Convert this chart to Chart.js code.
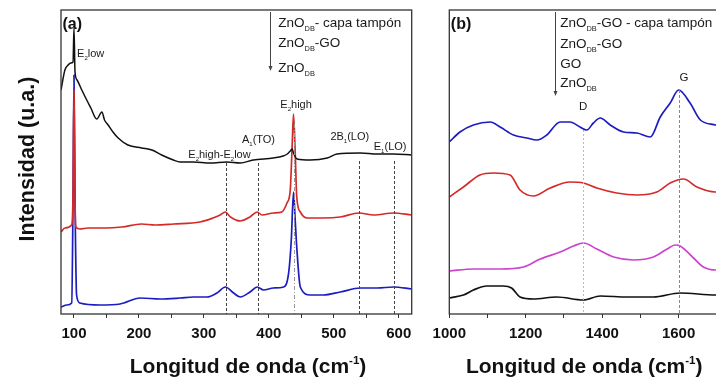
<!DOCTYPE html>
<html>
<head>
<meta charset="utf-8">
<script src="https://cdn.jsdelivr.net/npm/chart.js@4.4.0/dist/chart.umd.min.js"></script>
<style>
  html, body { margin: 0; padding: 0; background: #fff; overflow: hidden; width: 716px; height: 379px; }
  #ramanA { position: absolute; left: 0; top: 0; }
  #ramanB { position: absolute; left: 430px; top: 0; }
</style>
</head>
<body>
<canvas id="ramanA" width="430" height="379"></canvas>
<canvas id="ramanB" width="300" height="379"></canvas>
<script>
const FONT = '"Liberation Sans", Arial, sans-serif';

// --- (a) ZnO spectra, 80-620 cm-1 ---
const waveBlackA = [80, 86, 91, 95, 98.5, 100, 101.6, 104.7, 112, 119.6, 126, 135, 143, 147, 152.5, 160, 168, 183, 204, 220, 235, 253, 263.5, 283.5, 310, 335.5, 356, 376, 407, 422, 428.5, 433, 436, 438, 443.5, 464, 490, 505, 541, 567, 592, 620];
const intBlackA  = [224, 244, 249, 251, 252, 286, 242, 234, 224, 214, 206, 195, 202, 194, 189, 182, 176, 169, 166, 164, 159, 154, 152, 152, 151, 152, 151, 154, 156, 158, 160, 163, 165, 161, 155, 154, 156, 160, 161, 160, 160, 159];

const waveRedA = [80, 86, 96.5, 98.5, 100, 101.6, 103, 109, 121.6, 148, 173.6, 204, 225, 253, 294, 314, 325, 333, 341, 356, 371, 382, 389.5, 407, 420, 428, 433, 435.7, 438, 440.5, 443, 448.5, 459, 484, 510, 538.5, 561.6, 592, 620];
const intRedA  = [82, 86, 89, 120, 224, 114, 87, 85, 86, 86, 87, 90, 89, 90, 92, 96, 99, 102, 97, 93, 97, 102, 99, 101, 102, 111, 124, 164, 200, 164, 117, 102, 96, 96, 97, 101, 99, 101, 99];

const waveBlueA = [80, 89, 96.5, 98.5, 100, 101.6, 104, 109, 140, 171, 202, 232.7, 263.5, 283.5, 304.7, 320, 333, 345.7, 356, 371, 382, 392, 407, 423, 430.5, 434.6, 438, 440.6, 443, 448.5, 464, 484, 510, 541, 567, 592, 620];
const intBlueA  = [7, 9, 11, 114, 239, 114, 19, 11, 9, 10, 16, 15, 16, 17, 17, 21, 27, 21, 17, 22, 27, 24, 26, 27, 41, 74, 122, 94, 67, 27, 19, 19, 22, 26, 26, 27, 25];

const ticksA = [100, 150, 200, 250, 300, 350, 400, 450, 500, 550, 600];
const tickLabelsA = [100, 200, 300, 400, 500, 600];

// --- (b) carbon region, 1000-1700 cm-1 ---
const waveBlueB = [1000, 1028, 1063, 1107, 1133, 1168, 1203, 1229, 1255, 1290, 1316, 1342, 1360, 1377, 1395, 1421, 1456, 1491, 1526, 1552, 1578, 1600, 1630, 1657, 1697, 1707];
const intBlueB  = [172, 182, 189, 192, 187, 179, 176, 174, 179, 192, 192, 187, 184, 191, 196, 189, 182, 181, 177, 197, 211, 224, 211, 194, 189, 188];

const waveRedB = [1000, 1037, 1080, 1115, 1159, 1185, 1220, 1264, 1316, 1351, 1386, 1438, 1491, 1543, 1578, 1613, 1648, 1696, 1707];
const intRedB  = [117, 127, 139, 141, 139, 124, 118, 126, 132, 131, 126, 121, 119, 122, 131, 135, 127, 122, 122];

const waveMagB = [1000, 1063, 1133, 1194, 1238, 1290, 1325, 1351, 1386, 1430, 1482, 1534, 1570, 1591, 1604, 1639, 1665, 1697, 1707];
const intMagB  = [43, 45, 45, 47, 55, 62, 68, 71, 65, 57, 54, 57, 65, 69, 68, 56, 47, 44, 44];

const waveBlackB = [1000, 1037, 1063, 1098, 1141, 1163, 1185, 1220, 1281, 1351, 1395, 1465, 1534, 1604, 1697, 1707];
const intBlackB  = [16, 19, 24, 28, 28, 26, 17, 15, 17, 14, 18, 17, 17, 21, 19, 19];

const ticksB = [1000, 1100, 1200, 1300, 1400, 1500, 1600, 1700];
const tickLabelsB = [1000, 1200, 1400, 1600];

const xTitle = 'Longitud de onda (cm^{-1})';
const yTitle = 'Intensidad (u.a.)';

const pts = (xs, ys) => xs.map((x, i) => ({ x: x, y: ys[i] }));

// draws text with _{sub} and ^{sup} pieces
function richText(ctx, str, x, y, size, weight, align) {
  const parts = str.split(/([_^]\{[^}]*\})/).filter(Boolean).map(p =>
    (p[0] === '_' || p[0] === '^') ? { t: p.slice(2, -1), mode: p[0] } : { t: p, mode: '' });
  const fontOf = p => `${weight} ${p.mode ? size * 0.55 : size}px ${FONT}`;
  let w = 0;
  parts.forEach(p => { ctx.font = fontOf(p); p.w = ctx.measureText(p.t).width; w += p.w; });
  let cx = align === 'center' ? x - w / 2 : x;
  ctx.textAlign = 'left';
  ctx.textBaseline = 'alphabetic';
  parts.forEach(p => {
    ctx.font = fontOf(p);
    const dy = p.mode === '_' ? size * 0.27 : p.mode === '^' ? -size * 0.42 : 0;
    ctx.fillText(p.t, cx, y + dy);
    cx += p.w;
  });
}

const annotate = {
  id: 'annotate',
  afterDatasetsDraw(chart, args, o) {
    const { ctx, chartArea: a, scales: { x, y } } = chart;
    ctx.save();
    ctx.lineWidth = 1;
    o.markers.forEach(m => {
      const px = Math.round(x.getPixelForValue(m.at)) + 0.5;
      ctx.beginPath();
      ctx.setLineDash(m.dash);
      ctx.strokeStyle = m.color;
      ctx.moveTo(px, y.getPixelForValue(m.from));
      ctx.lineTo(px, y.getPixelForValue(0));
      ctx.stroke();
    });
    ctx.setLineDash([]);

    // legend arrow
    const ax = Math.round(x.getPixelForValue(o.arrow.at)) + 0.5;
    const ay0 = y.getPixelForValue(o.arrow.from), ay1 = y.getPixelForValue(o.arrow.to);
    ctx.strokeStyle = '#444';
    ctx.beginPath(); ctx.moveTo(ax, ay0); ctx.lineTo(ax, ay1 - 3); ctx.stroke();
    ctx.fillStyle = '#444';
    ctx.beginPath(); ctx.moveTo(ax - 2, ay1 - 4); ctx.lineTo(ax + 2, ay1 - 4); ctx.lineTo(ax, ay1 + 1); ctx.fill();

    ctx.fillStyle = '#1a1a1a';
    o.legend.forEach(l => richText(ctx, l.text, x.getPixelForValue(o.legendAt), y.getPixelForValue(l.y), 13.5, 'normal', 'left'));
    o.labels.forEach(l => richText(ctx, l.text, x.getPixelForValue(l.x), y.getPixelForValue(l.y), l.size || 11, 'normal', l.align || 'left'));

    // frame
    ctx.strokeStyle = '#333';
    ctx.lineWidth = 1.3;
    ctx.strokeRect(a.left, a.top, a.right - a.left, a.bottom - a.top);

    // panel letter and axis titles
    ctx.fillStyle = '#111';
    richText(ctx, o.panel, a.left + 1.5, a.top + 19, 16, 'bold', 'left');
    richText(ctx, xTitle, x.getPixelForValue(o.xTitleAt), 373, 21, 'bold', 'center');
    if (o.showYTitle) {
      ctx.translate(34, (a.top + a.bottom) / 2 - 3);
      ctx.rotate(-Math.PI / 2);
      richText(ctx, yTitle, 0, 0, 21.5, 'bold', 'center');
    }
    ctx.restore();
  }
};

function spectrumChart(id, series, xr, tickValues, tickLabels, padding, notes) {
  return new Chart(document.getElementById(id), {
    type: 'line',
    data: {
      datasets: series.map(s => ({
        data: s.data,
        borderColor: s.color,
        borderWidth: s.width || 1.7,
        pointRadius: 0,
        cubicInterpolationMode: 'monotone',
        fill: false
      }))
    },
    options: {
      responsive: false,
      animation: false,
      layout: { padding: padding },
      plugins: { legend: { display: false }, tooltip: { enabled: false }, annotate: notes },
      scales: {
        x: {
          type: 'linear', min: xr[0], max: xr[1],
          afterBuildTicks: s => { s.ticks = tickValues.map(v => ({ value: v })); },
          // fixed axis band; edge labels must not push the plot area inward
          afterFit: s => { s.height = 65; s.paddingLeft = 0; s.paddingRight = 0; },
          border: { display: false },
          grid: { drawOnChartArea: false, drawTicks: true, tickLength: 4, color: '#333' },
          ticks: {
            autoSkip: false, maxRotation: 0, padding: 7, color: '#111',
            font: { family: FONT, size: 15, weight: 'bold' },
            callback: v => tickLabels.includes(v) ? String(v) : ''
          }
        },
        y: { display: false, min: 0, max: 304 }
      }
    },
    plugins: [annotate]
  });
}

spectrumChart('ramanA', [
  { data: pts(waveBlackA, intBlackA), color: '#111111', width: 1.5 },
  { data: pts(waveRedA, intRedA), color: '#d42a2a' },
  { data: pts(waveBlueA, intBlueA), color: '#1c1cc0' }
], [80, 620], ticksA, tickLabelsA, { left: 61, top: 10, right: 18.3, bottom: 0 }, {
  panel: '(a)', showYTitle: true, xTitleAt: 368,
  arrow: { at: 402, from: 302, to: 244 },
  legendAt: 414.6,
  legend: [
    { text: 'ZnO_{DB}- capa tampón', y: 287 },
    { text: 'ZnO_{DB}-GO', y: 267 },
    { text: 'ZnO_{DB}', y: 242 }
  ],
  labels: [
    { text: 'E_{2}low', x: 104.7, y: 257 },
    { text: 'E_{2}high-E_{2}low', x: 276, y: 156 },
    { text: 'A_{1}(TO)', x: 358.6, y: 171 },
    { text: 'E_{2}high', x: 417.7, y: 206 },
    { text: '2B_{1}(LO)', x: 494.8, y: 174 },
    { text: 'E_{1}(LO)', x: 561.6, y: 164 }
  ],
  markers: [
    { at: 334.4, from: 151, color: '#444', dash: [3, 2] },
    { at: 382.7, from: 151, color: '#444', dash: [3, 2] },
    { at: 438, from: 190, color: '#999', dash: [4, 2, 1, 2] },
    { at: 539, from: 153, color: '#444', dash: [3, 2] },
    { at: 592.5, from: 153, color: '#444', dash: [3, 2] }
  ]
});

spectrumChart('ramanB', [
  { data: pts(waveBlueB, intBlueB), color: '#1c1cc0' },
  { data: pts(waveRedB, intRedB), color: '#d42a2a' },
  { data: pts(waveMagB, intMagB), color: '#cc44cc' },
  { data: pts(waveBlackB, intBlackB), color: '#111111' }
], [1000, 1707], ticksB, tickLabelsB, { left: 19.3, top: 10, right: 10.5, bottom: 0 }, {
  panel: '(b)', showYTitle: false, xTitleAt: 1353,
  arrow: { at: 1277, from: 302, to: 219 },
  legendAt: 1290,
  legend: [
    { text: 'ZnO_{DB}-GO - capa tampón', y: 287 },
    { text: 'ZnO_{DB}-GO', y: 266 },
    { text: 'GO', y: 246 },
    { text: 'ZnO_{DB}', y: 227 }
  ],
  labels: [
    { text: 'D', x: 1350, y: 204, size: 11.5, align: 'center' },
    { text: 'G', x: 1614, y: 233, size: 11.5, align: 'center' }
  ],
  markers: [
    { at: 1350, from: 184, color: '#bbb', dash: [2, 2] },
    { at: 1600, from: 224, color: '#888', dash: [3, 2] }
  ]
});
</script>
</body>
</html>
